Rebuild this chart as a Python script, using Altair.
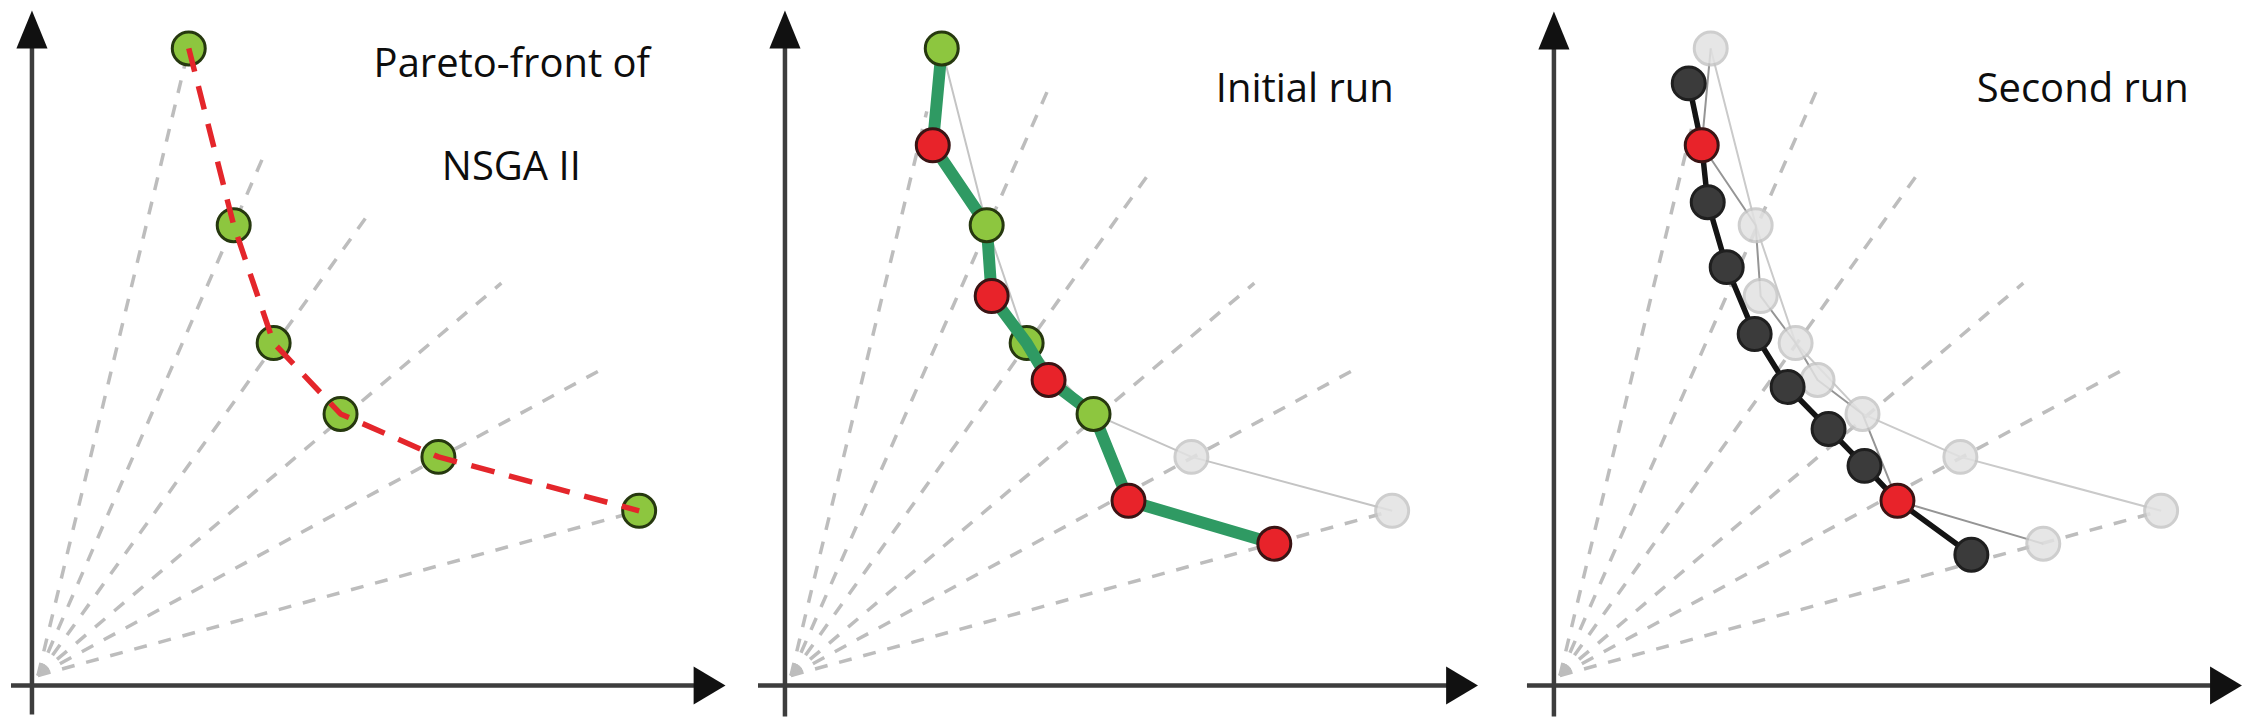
import altair as alt
import pandas as pd

# ---------------- data (objective-space units) ----------------
# Pareto front found by NSGA II (green points)
front_id = ["G1", "G2", "G3", "G4", "G5", "G6"]
front_f1 = [15.7, 20.2, 24.2, 30.9, 40.7, 60.8]
front_f2 = [63.8, 46.1, 34.3, 27.2, 22.9, 17.5]

# new solutions of the initial run (red points)
run1_id = ["R1", "R2", "R3", "R4", "R5"]
run1_f1 = [14.8, 20.7, 26.4, 34.4, 49.0]
run1_f2 = [54.1, 39.0, 30.6, 18.5, 14.2]

# solutions of the second run (dark points)
run2_id = ["D1", "D2", "D3", "D4", "D5", "D6", "D7", "D8"]
run2_f1 = [13.5, 15.4, 17.3, 20.1, 23.4, 27.5, 31.1, 41.8]
run2_f2 = [60.3, 48.4, 41.9, 35.2, 29.9, 25.7, 22.0, 13.1]

# fronts (vertex order)
front0_order = ["G1", "G2", "G3", "G4", "G5", "G6"]
front1_order = ["G1", "R1", "G2", "R2", "G3", "R3", "G4", "R4", "R5"]
front2_order = ["D1", "R1", "D2", "D3", "D4", "D5", "D6", "D7", "R4", "D8"]

# reference directions (dashed rays)
ray_origin_f1, ray_origin_f2 = 0.6, 1.0
ray_end_f1_a = [15.7, 23.4, 33.9, 47.0, 57.3, 60.8]
ray_end_f2_a = [63.8, 53.5, 47.5, 40.3, 31.8, 17.5]
ray_end_f1_b = [14.2, 26.4, 36.4, 47.0, 57.3, 60.8]
ray_end_f2_b = [57.5, 59.8, 51.2, 40.3, 31.8, 17.5]

titles = [["Pareto-front of", "NSGA II"], ["Initial run"], ["Second run"]]
title_f1 = [[48.05, 48.0], [52.05], [52.95]]
title_f2 = [[60.9, 50.6], [58.4], [58.4]]

# axis arrows per panel: y-axis bottom, x-axis left start, x arrow centre
axis_ybottom = [-2.9, -3.1, -3.1]
axis_xleft = [-2.1, -2.7, -2.7]
arrow_x = [67.85, 67.8, 67.3]
arrow_y = [65.7, 65.7, 65.6]

# ---------------- layout ----------------
FONT = "Open Sans"
W = [750, 750, 735]
H = 710
XDOM = [[-2.1, 72.9], [-2.5, 72.5], [-4.5, 69.0]]
YDOM = [-3.2, 67.8]
PT = 1090

pts = {}
for ids, f1, f2 in [(front_id, front_f1, front_f2), (run1_id, run1_f1, run1_f2),
                    (run2_id, run2_f1, run2_f2)]:
    for k, a, b in zip(ids, f1, f2):
        pts[k] = (a, b)


def df_pts(ids):
    return pd.DataFrame({"id": ids, "f1": [pts[k][0] for k in ids],
                         "f2": [pts[k][1] for k in ids], "i": list(range(len(ids)))})


def X(i, field="f1"):
    return alt.X(field + ":Q", scale=alt.Scale(domain=XDOM[i], zero=False, nice=False), axis=None)


def Y(field="f2"):
    return alt.Y(field + ":Q", scale=alt.Scale(domain=YDOM, zero=False, nice=False), axis=None)


def rays(i, ef1, ef2):
    d = pd.DataFrame({"f1": [ray_origin_f1] * len(ef1), "f2": [ray_origin_f2] * len(ef1),
                      "e1": ef1, "e2": ef2})
    return alt.Chart(d).mark_rule(color="#bdbdbd", strokeWidth=3.5, strokeDash=[13, 12]).encode(
        x=X(i), y=Y(), x2="e1:Q", y2="e2:Q")


def axes(i):
    d = pd.DataFrame({"f1": [0, axis_xleft[i]], "f2": [axis_ybottom[i], 0],
                      "e1": [0, arrow_x[i] - 1.0], "e2": [arrow_y[i] - 1.0, 0]})
    rules = alt.Chart(d).mark_rule(color="#3d3d3d", strokeWidth=4.5).encode(
        x=X(i), y=Y(), x2="e1:Q", y2="e2:Q")
    up = alt.Chart(pd.DataFrame({"f1": [0], "f2": [arrow_y[i]]})).mark_point(
        shape="M0,-1L-0.82,1L0.82,1Z", filled=True, size=1444, color="#111111", opacity=1,
        strokeWidth=0).encode(x=X(i), y=Y())
    right = alt.Chart(pd.DataFrame({"f1": [arrow_x[i]], "f2": [0]})).mark_point(
        shape="M0.84,0L-0.84,-1L-0.84,1Z", filled=True, size=1444, color="#111111", opacity=1,
        strokeWidth=0).encode(x=X(i), y=Y())
    return [rules, up, right]


def circles(i, ids, fill, stroke, opacity=1.0):
    return alt.Chart(df_pts(ids)).mark_circle(size=PT, fill=fill, stroke=stroke, strokeWidth=3,
                                              opacity=opacity).encode(x=X(i), y=Y())


def line(i, ids, color, width, dash=None):
    kw = dict(color=color, strokeWidth=width, strokeJoin="round")
    if dash:
        kw["strokeDash"] = dash
    return alt.Chart(df_pts(ids)).mark_line(**kw).encode(x=X(i), y=Y(), order=alt.Order("i:Q"))


def text(i):
    d = pd.DataFrame({"t": titles[i], "f1": title_f1[i], "f2": title_f2[i]})
    return alt.Chart(d).mark_text(font=FONT, fontSize=40, align="center", baseline="alphabetic",
                                  color="#0d0d0d").encode(x=X(i), y=Y(), text="t:N")


GREEN, GREEN_S = "#8dc63f", "#26380f"
RED, RED_S = "#e8232a", "#3a1414"
DARK, DARK_S = "#3b3b3b", "#1f1f1f"
GRAY, GRAY_S = "#e2e2e2", "#c6c6c6"

# panel 1
p1 = alt.layer(
    rays(0, ray_end_f1_a, ray_end_f2_a),
    *axes(0),
    circles(0, front_id, GREEN, GREEN_S),
    line(0, front0_order, "#e4262b", 5.5, [24, 15]),
    text(0),
).properties(width=W[0], height=H)

# panel 2
p2 = alt.layer(
    rays(1, ray_end_f1_b, ray_end_f2_b),
    *axes(1),
    line(1, front0_order, "#c4c4c4", 2),
    circles(1, ["G5", "G6"], GRAY, GRAY_S, 0.85),
    circles(1, ["G3"], GREEN, GREEN_S),
    line(1, front1_order, "#2f9a63", 12),
    circles(1, ["G1", "G2", "G4"], GREEN, GREEN_S),
    circles(1, run1_id, RED, RED_S),
    text(1),
).properties(width=W[1], height=H)

# panel 3
p3 = alt.layer(
    rays(2, ray_end_f1_b, ray_end_f2_b),
    *axes(2),
    line(2, front0_order, "#cacaca", 2),
    line(2, front1_order, "#959595", 2),
    circles(2, front_id + ["R2", "R3", "R5"], GRAY, GRAY_S, 0.85),
    line(2, front2_order, "#141414", 5.5),
    circles(2, run2_id, DARK, DARK_S),
    circles(2, ["R1", "R4"], RED, RED_S),
    text(2),
).properties(width=W[2], height=H)

chart = alt.hconcat(p1, p2, p3, spacing=0, bounds="flush").resolve_scale(
    x="independent", y="independent").configure_view(stroke=None).properties(
    padding=0, background="white")

chart.save("out.html", embed_options={"renderer": "svg", "actions": False})
